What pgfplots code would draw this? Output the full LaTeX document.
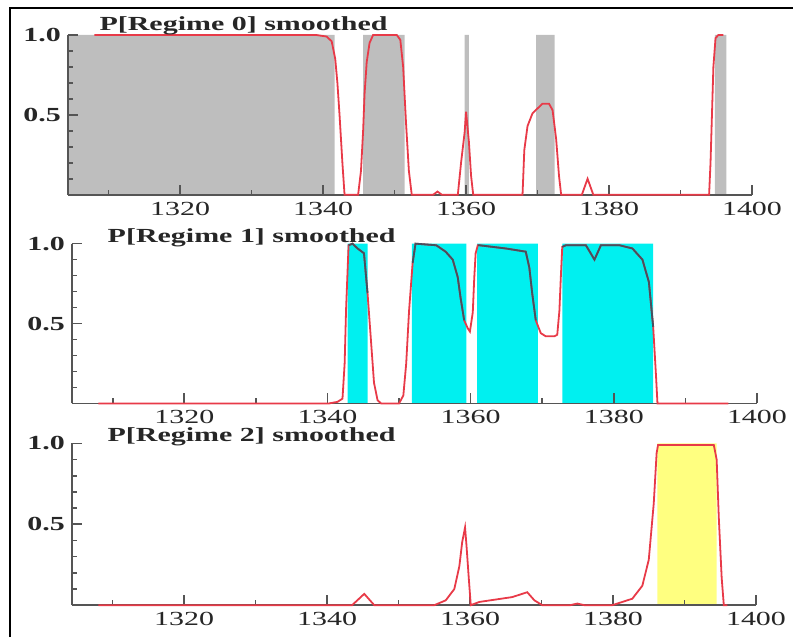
\documentclass[border=0pt]{standalone}
\usepackage{pgfplots}
\pgfplotsset{compat=1.18}
\usepackage{pgfplotstable}
\usepackage{fontspec}
\setmainfont{Liberation Serif}[FakeStretch=1.5]

\definecolor{linered}{RGB}{232,58,72}
\definecolor{axgray}{RGB}{85,85,85}
\definecolor{shgray}{RGB}{190,190,190}
\definecolor{shcyan}{RGB}{0,240,240}
\definecolor{shyellow}{RGB}{255,255,128}
\definecolor{darkline}{RGB}{70,80,95}

% smoothed probabilities
\pgfplotstableread{
x p
1308 1.00
1320 1.00
1330 1.00
1339 1.00
1340.5 0.99
1341.2 0.96
1341.7 0.85
1342.0 0.70
1342.3 0.50
1342.7 0.20
1343.0 0.00
1344.9 0.00
1345.3 0.15
1345.6 0.40
1345.8 0.63
1346.1 0.83
1346.5 0.95
1347.0 1.00
1350.3 1.00
1350.8 0.97
1351.2 0.80
1351.6 0.45
1352.0 0.15
1352.4 0.00
1355.4 0.00
1356.0 0.02
1356.6 0.00
1358.85 0.00
1359.3 0.20
1359.8 0.39
1360.0 0.52
1360.4 0.33
1360.7 0.12
1361.0 0.00
1367.9 0.00
1368.15 0.28
1368.6 0.43
1369.3 0.51
1370.7 0.57
1371.6 0.57
1372.1 0.53
1372.6 0.35
1373.0 0.12
1373.3 0.00
1376.2 0.00
1377.0 0.10
1377.8 0.00
1394.0 0.00
1394.2 0.20
1394.4 0.50
1394.6 0.80
1394.9 0.98
1395.3 1.00
1396.0 1.00
}\regzero

\pgfplotstableread{
x p
1308 0.00
1340.2 0.00
1341.4 0.01
1342.1 0.03
1342.4 0.25
1342.6 0.59
1342.95 0.99
1343.5 1.00
1344.2 0.97
1345.1 0.94
1345.6 0.69
1346.1 0.38
1346.5 0.13
1347.0 0.02
1347.5 0.00
1350.0 0.00
1350.6 0.05
1351.0 0.25
1351.4 0.58
1351.9 0.88
1352.3 1.00
1355.2 0.99
1356.5 0.95
1357.5 0.90
1358.2 0.79
1358.6 0.66
1359.1 0.52
1359.6 0.47
1359.9 0.45
1360.3 0.57
1360.5 0.78
1360.7 0.94
1361.0 0.99
1361.2 0.99
1364.9 0.97
1367.7 0.95
1368.2 0.85
1368.6 0.69
1369.1 0.52
1369.8 0.44
1370.5 0.42
1371.7 0.42
1372.1 0.43
1372.4 0.58
1372.6 0.79
1372.8 0.98
1373.3 0.99
1376.1 0.99
1377.3 0.90
1378.2 0.99
1380.8 0.99
1382.6 0.97
1384.0 0.90
1384.9 0.76
1385.5 0.48
1385.9 0.17
1386.1 0.00
1396.0 0.00
}\regone

\pgfplotstableread{
x p
1308 0.00
1343.5 0.00
1345.2 0.07
1346.6 0.00
1355.0 0.00
1356.6 0.03
1357.8 0.10
1358.5 0.24
1358.9 0.39
1359.3 0.48
1359.5 0.37
1359.8 0.18
1360.1 0.00
1361.3 0.02
1365.9 0.05
1368.0 0.08
1369.0 0.03
1370.1 0.00
1374.0 0.00
1375.0 0.01
1376.0 0.00
1379.9 0.00
1382.7 0.04
1384.1 0.12
1385.0 0.28
1385.7 0.63
1386.1 0.94
1386.3 0.99
1394.1 0.99
1394.5 0.90
1394.8 0.54
1395.2 0.17
1395.5 0.00
1396.0 0.00
}\regtwo

\pgfplotsset{
  regime/.style={
    set layers,
    scale only axis, width=342.5pt, height=80pt,
    xmin=1304.3, xmax=1400, ymin=0, ymax=1,
    axis x line=bottom, axis y line=left,
    axis line style={-, axgray, line width=0.8pt},
    xtick={1320,1340,1360,1380,1400},
    xticklabels={1320,1340,1360,1380,1400},
    minor xtick={1310,1330,1350,1370,1390},
    ytick={0.5,1}, yticklabels={0.5,1.0},
    minor ytick={0.1,0.2,0.3,0.4,0.6,0.7,0.8,0.9},
    tick align=inside, major tick length=5pt, minor tick length=2.5pt,
    tick style={axgray, line width=0.8pt},
    /pgf/number format/assume math mode=true,
    xticklabel style={font=\fontsize{10}{12}\selectfont, text=black!85},
    yticklabel style={font=\bfseries\fontsize{10}{12}\selectfont, text=black!85},
    clip=false,
  },
  shade/.style={draw=none, fill=#1, on layer=axis background},
  prob/.style={linered, line width=0.9pt},
}
\tikzset{ttl/.style={anchor=base west, font=\bfseries\fontsize{10}{12}\selectfont, text=black!85}}

\begin{document}
\begin{tikzpicture}
\path (0,0) rectangle (397pt,319pt);
\draw[line width=1.1pt] (5pt,0) -- (5pt,315pt) -- (397pt,315pt);

% Regime 0
\begin{axis}[regime, at={(34pt,221.5pt)}, anchor=south west]
  \addplot[shade=shgray] coordinates {(1304.3,0) (1304.3,1) (1341.6,1) (1341.6,0)} \closedcycle;
  \addplot[shade=shgray] coordinates {(1345.6,0) (1345.6,1) (1351.4,1) (1351.4,0)} \closedcycle;
  \addplot[shade=shgray] coordinates {(1359.8,0) (1359.8,1) (1360.4,1) (1360.4,0)} \closedcycle;
  \addplot[shade=shgray] coordinates {(1369.8,0) (1369.8,1) (1372.4,1) (1372.4,0)} \closedcycle;
  \addplot[shade=shgray] coordinates {(1394.8,0) (1394.8,1) (1396.4,1) (1396.4,0)} \closedcycle;
  \addplot[prob] table {\regzero};
  \node[ttl] at (rel axis cs:0.036,1.025) {P[Regime 0] smoothed};
\end{axis}

% Regime 1
\begin{axis}[regime, at={(36pt,117pt)}, anchor=south west, width=343pt]
  \addplot[shade=shcyan] coordinates {(1342.8,0) (1342.8,1) (1345.6,1) (1345.6,0)} \closedcycle;
  \addplot[shade=shcyan] coordinates {(1351.8,0) (1351.8,1) (1359.4,1) (1359.4,0)} \closedcycle;
  \addplot[shade=shcyan] coordinates {(1360.9,0) (1360.9,1) (1369.4,1) (1369.4,0)} \closedcycle;
  \addplot[shade=shcyan] coordinates {(1372.8,0) (1372.8,1) (1385.5,1) (1385.5,0)} \closedcycle;
  \addplot[prob] table {\regone};
  \addplot[darkline, line width=0.9pt, restrict x to domain=1342.8:1345.6] table {\regone};
  \addplot[darkline, line width=0.9pt, restrict x to domain=1351.8:1359.4] table {\regone};
  \addplot[darkline, line width=0.9pt, restrict x to domain=1360.9:1369.4] table {\regone};
  \addplot[darkline, line width=0.9pt, restrict x to domain=1372.8:1385.5] table {\regone};
  \node[ttl] at (rel axis cs:0.042,1.006) {P[Regime 1] smoothed};
\end{axis}

% Regime 2
\begin{axis}[regime, at={(36pt,16pt)}, anchor=south west, height=81pt]
  \addplot[shade=shyellow] coordinates {(1386.2,0) (1386.2,1) (1394.5,1) (1394.5,0)} \closedcycle;
  \addplot[prob] table {\regtwo};
  \node[ttl] at (rel axis cs:0.042,1.012) {P[Regime 2] smoothed};
\end{axis}
\end{tikzpicture}
\end{document}
